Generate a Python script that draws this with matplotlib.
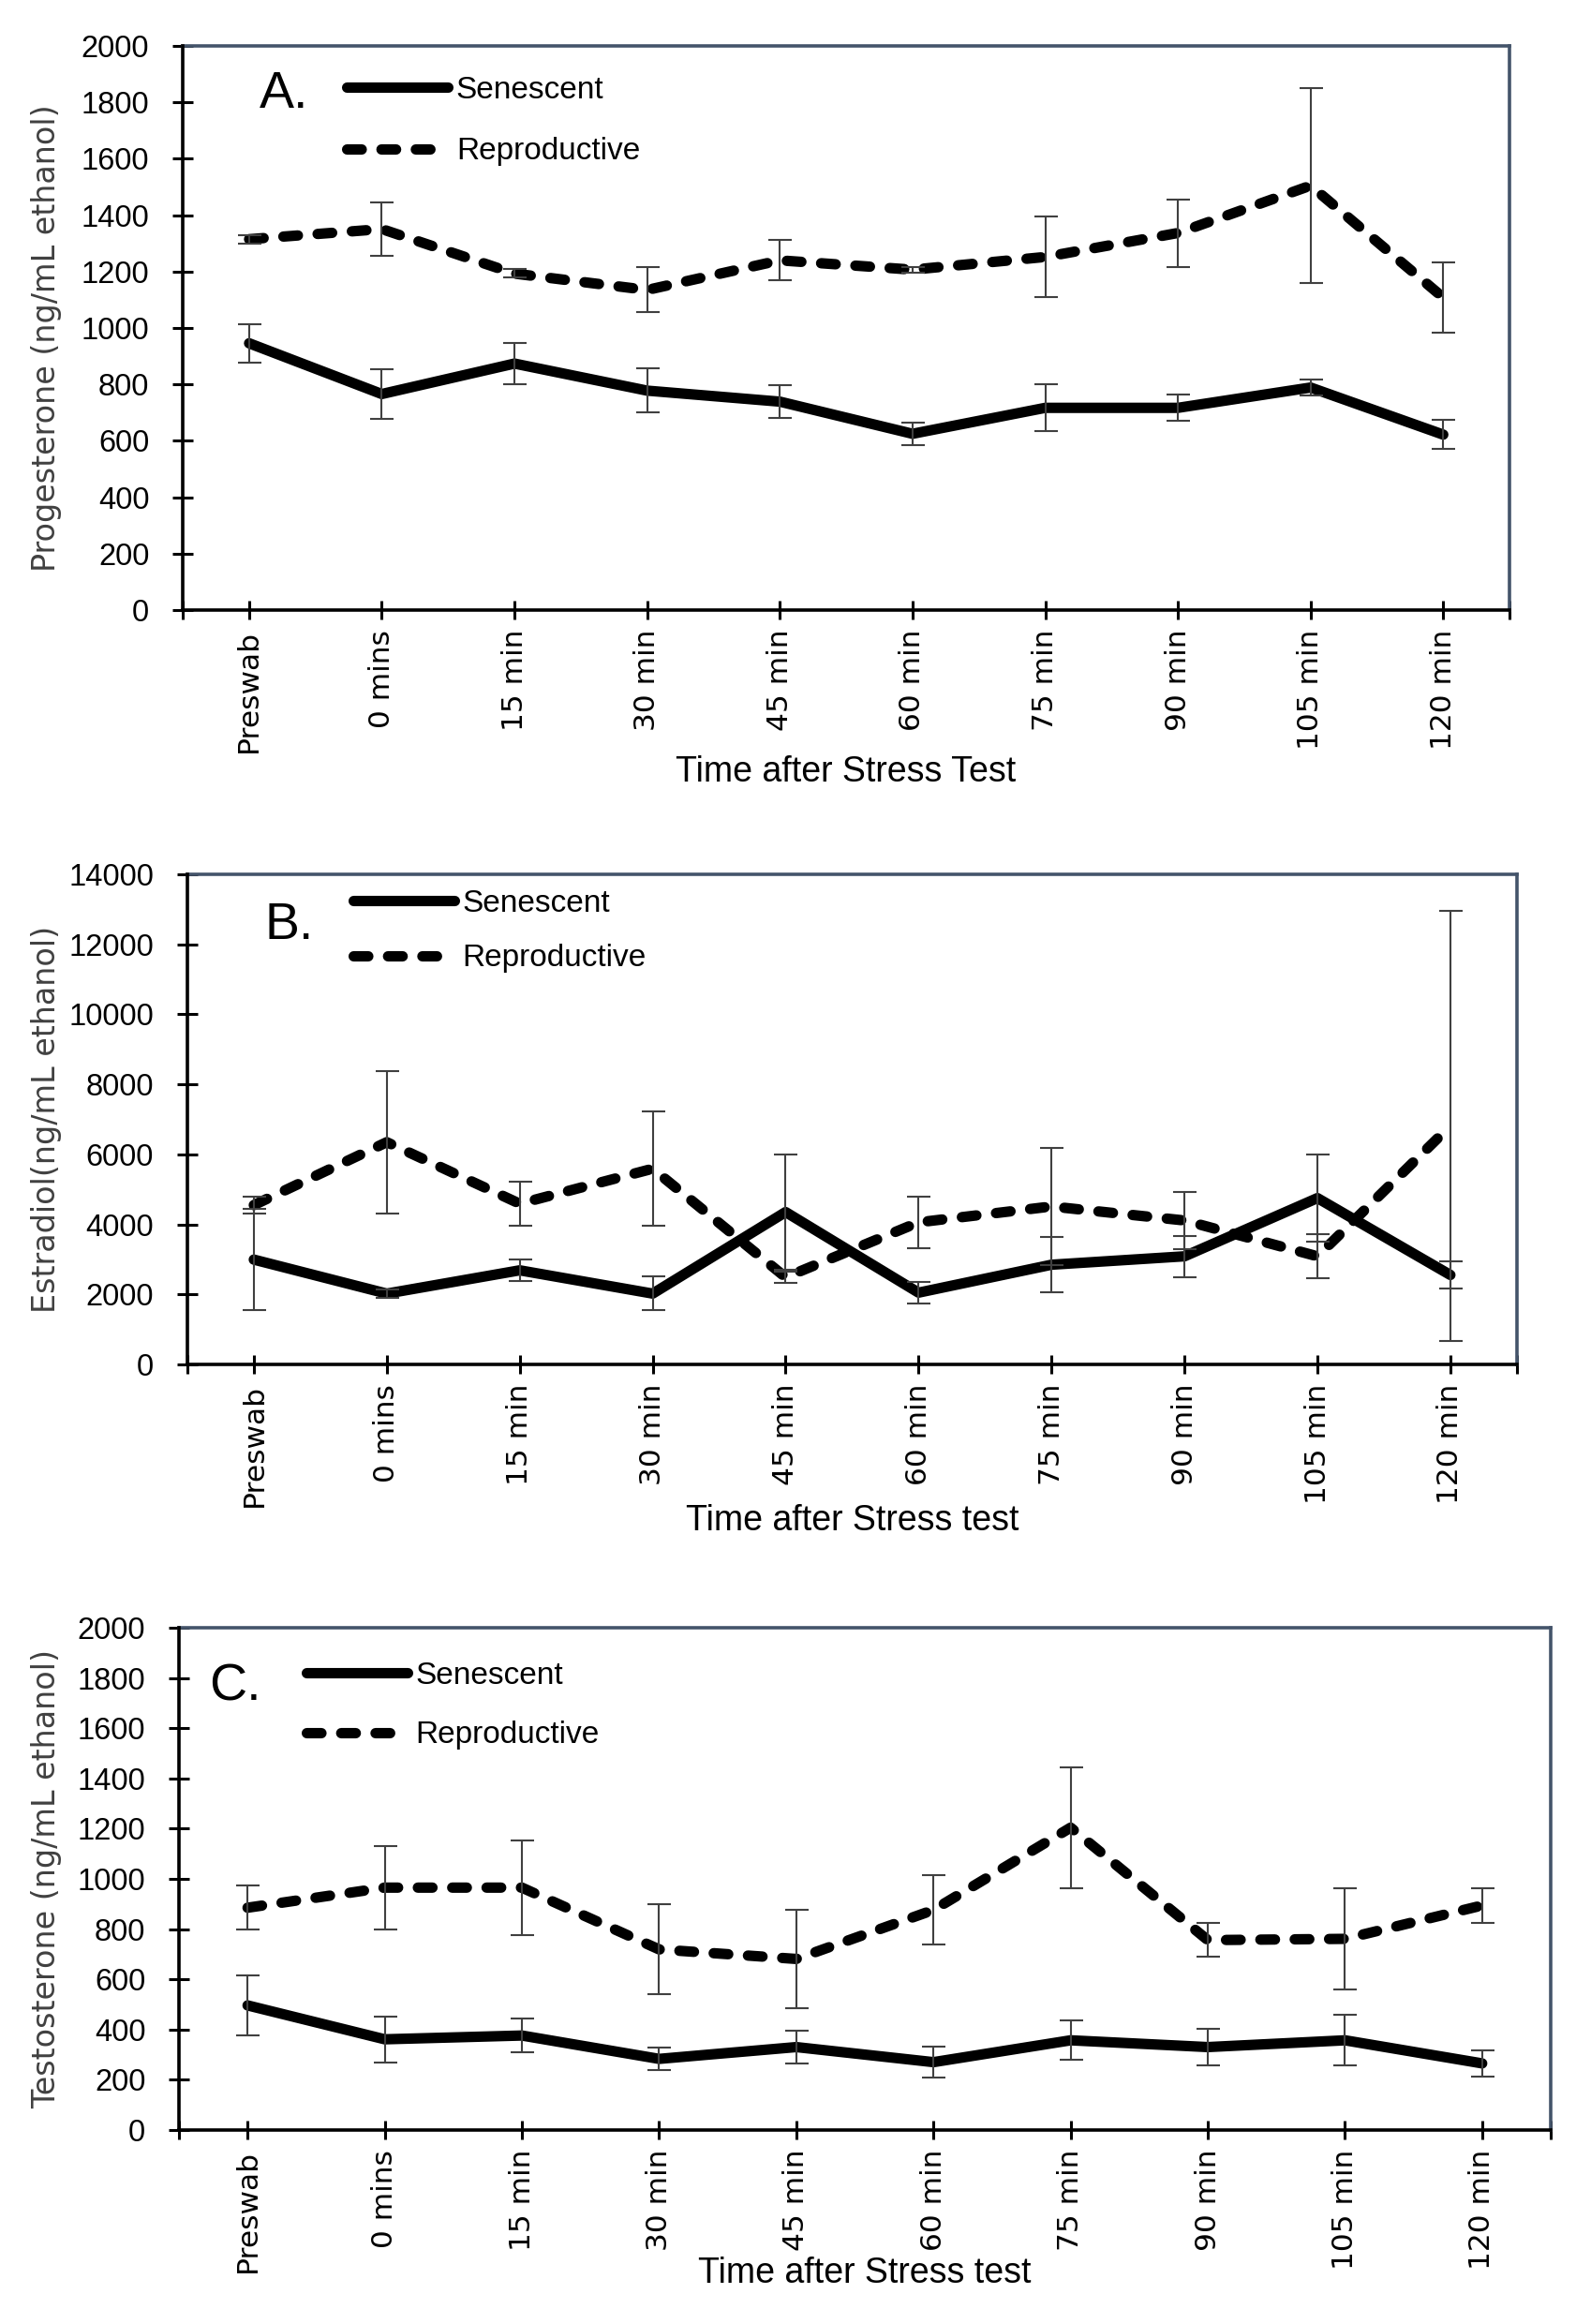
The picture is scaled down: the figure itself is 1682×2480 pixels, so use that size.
import matplotlib
matplotlib.use('Agg')
import matplotlib.pyplot as plt
from matplotlib.font_manager import FontProperties

plt.rcParams['font.family'] = ['Liberation Sans', 'DejaVu Sans']

categories = ['Preswab', '0 mins', '15 min', '30 min', '45 min', '60 min',
              '75 min', '90 min', '105 min', '120 min']
series_names = ['Senescent', 'Reproductive']

# Panel A: Progesterone
prog_sen = [946, 766, 874, 778, 739, 625, 717, 717, 789, 622]
prog_sen_err = [68, 88, 73, 78, 59, 40, 83, 47, 27, 52]
prog_rep = [1315, 1351, 1193, 1135, 1240, 1207, 1252, 1337, 1505, 1108]
prog_rep_err = [15, 95, 15, 80, 72, 10, 143, 120, 346, 126]

# Panel B: Estradiol
est_sen = [2994, 2023, 2688, 2023, 4352, 2050, 2848, 3088, 4751, 2555]
est_sen_err = [1450, 120, 300, 480, 1640, 300, 780, 590, 1240, 400]
est_rep = [4551, 6348, 4591, 5590, 2489, 4059, 4512, 4112, 3088, 6814]
est_rep_err = [230, 2030, 620, 1640, 150, 730, 1680, 810, 630, 6150]

# Panel C: Testosterone
tes_sen = [496, 361, 376, 283, 330, 270, 357, 330, 357, 265]
tes_sen_err = [120, 92, 68, 46, 65, 60, 79, 72, 100, 53]
tes_rep = [885, 965, 965, 719, 681, 876, 1204, 756, 761, 894]
tes_rep_err = [88, 167, 188, 180, 195, 139, 240, 67, 202, 68]

prog_yticks = list(range(0, 2001, 200))
est_yticks = list(range(0, 14001, 2000))
tes_yticks = list(range(0, 2001, 200))

panels = [
    dict(rect=[0.1159, 0.7375, 0.8414, 0.2427], sen=prog_sen, sen_err=prog_sen_err,
         rep=prog_rep, rep_err=prog_rep_err, yticks=prog_yticks,
         ylabel='Progesterone (ng/mL ethanol)', xlabel='Time after Stress Test',
         letter='A.', letter_pos=(0.079, 1781), ylab_pos=(-0.0911, 0.482),
         xlab_pos=(0.5, -0.2575), leg_pos=(0.1236, 0.947), leg_sp=1.03),
    dict(rect=[0.1188, 0.4129, 0.8431, 0.2109], sen=est_sen, sen_err=est_sen_err,
         rep=est_rep, rep_err=est_rep_err, yticks=est_yticks,
         ylabel='Estradiol(ng/mL ethanol)', xlabel='Time after Stress test',
         letter='B.', letter_pos=(0.085, 12153), ylab_pos=(-0.0944, 0.5),
         xlab_pos=(0.5, -0.285), leg_pos=(0.1247, 0.970), leg_sp=0.83),
    dict(rect=[0.1135, 0.0835, 0.8699, 0.2161], sen=tes_sen, sen_err=tes_sen_err,
         rep=tes_rep, rep_err=tes_rep_err, yticks=tes_yticks,
         ylabel='Testosterone (ng/mL ethanol)', xlabel='Time after Stress test',
         letter='C.', letter_pos=(-0.281, 1709), ylab_pos=(-0.0854, 0.5),
         xlab_pos=(0.5, -0.252), leg_pos=(0.0929, 0.933), leg_sp=0.97),
]

fig = plt.figure(figsize=(16.83, 24.8), dpi=100)
x = list(range(len(categories)))
LW = 8
frame_col = '#44546A'
err_col = '#404040'

for p in panels:
    ax = fig.add_axes(p['rect'])
    ax.plot(x, p['sen'], color='black', lw=LW, solid_joinstyle='round',
            solid_capstyle='round', label=series_names[0], zorder=2)
    ax.plot(x, p['rep'], color='black', lw=LW, linestyle=(0, (1.4, 1.9)),
            dash_capstyle='round', dash_joinstyle='round',
            label=series_names[1], zorder=2)
    ax.errorbar(x, p['sen'], yerr=p['sen_err'], fmt='none', ecolor=err_col,
                elinewidth=1.5, capsize=9, capthick=1.5, zorder=3)
    ax.errorbar(x, p['rep'], yerr=p['rep_err'], fmt='none', ecolor=err_col,
                elinewidth=1.5, capsize=9, capthick=1.5, zorder=3)

    ax.set_xlim(-0.5, len(categories) - 0.5)
    ax.set_ylim(p['yticks'][0], p['yticks'][-1])
    ax.set_yticks(p['yticks'])
    ax.set_xticks(x)
    ax.set_xticklabels(categories, rotation=90, fontfamily='DejaVu Sans',
                       fontsize=22.5)
    ax.set_xticks([-0.5, len(categories) - 0.5], minor=True)
    ax.tick_params(axis='x', which='both', direction='inout', length=14,
                   width=2.2, pad=8, color='black')
    ax.tick_params(axis='y', direction='inout', length=16.5, width=2.2,
                   pad=17.5, labelsize=23.5, color='black')

    for side in ['left', 'bottom']:
        ax.spines[side].set_color('black')
        ax.spines[side].set_linewidth(2.6)
        ax.spines[side].set_zorder(4)
    for side in ['top', 'right']:
        ax.spines[side].set_color(frame_col)
        ax.spines[side].set_linewidth(2.6)

    ax.set_ylabel(p['ylabel'], fontfamily='DejaVu Sans', fontsize=24,
                  color='#404040')
    ax.yaxis.set_label_coords(*p['ylab_pos'])
    ax.set_xlabel(p['xlabel'], fontsize=27)
    ax.xaxis.set_label_coords(*p['xlab_pos'])

    ax.text(p['letter_pos'][0], p['letter_pos'][1], p['letter'], fontsize=40,
            ha='left', va='baseline')

    ax.legend(loc='upper left', bbox_to_anchor=p['leg_pos'], frameon=False,
              borderpad=0, borderaxespad=0, handlelength=3.25,
              handletextpad=0.25, labelspacing=p['leg_sp'],
              prop=FontProperties(family=['Liberation Sans', 'DejaVu Sans'],
                                  size=24))

fig.savefig('out.png', dpi=100)
